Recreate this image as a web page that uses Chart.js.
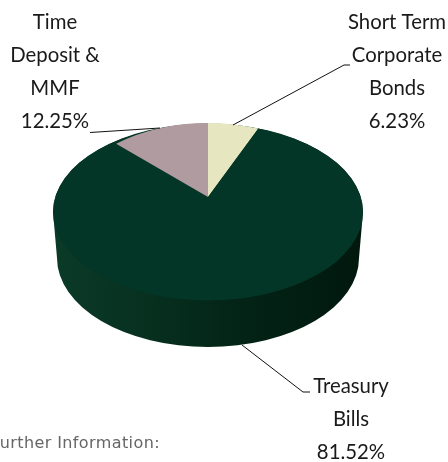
<!DOCTYPE html>
<html><head><meta charset="utf-8">
<style>html,body{margin:0;padding:0;background:#fff;overflow:hidden}canvas{display:block}</style>
<script src="https://cdn.jsdelivr.net/npm/chart.js@4"></script></head>
<body><canvas id="c" width="448" height="462"></canvas>
<script>
const categories = ["Short Term Corporate Bonds", "Treasury Bills", "Time Deposit & MMF"];
const values = [6.23, 81.52, 12.25];
const colors = ["#e6e7c1", "#033626", "#b09ca0"];
const labelLines = [["Short Term", "Corporate", "Bonds", "6.23%"], ["Treasury", "Bills", "81.52%"], ["Time", "Deposit &", "MMF", "12.25%"]];
const footnote = "Further Information:";

const labelPos = [{x:397,y:22},{x:351,y:386},{x:55,y:22}];
const leaders = [[[233,125],[344,65],[350,65]],[[242,345],[303,392],[310,392]],[[90,132.5],[160,128]]];

const pie3d = {
  id:'pie3d',
  beforeDatasetDraw(chart){
    const ctx = chart.ctx, arcs = chart.getDatasetMeta(0).data, R = arcs[0].outerRadius;
    const g = ctx.createLinearGradient(55,0,360,0);
    g.addColorStop(0,'#0b3a29'); g.addColorStop(0.3,'#07301f'); g.addColorStop(0.6,'#032416'); g.addColorStop(1,'#01180e');
    ctx.save();
    ctx.fillStyle = g;
    ctx.beginPath();
    ctx.ellipse(208,258,151,89,0,0,Math.PI);
    ctx.lineTo(53,212);
    ctx.ellipse(208,212,155,88,0,Math.PI,0);
    ctx.lineTo(359,258);
    ctx.fill();
    ctx.fillStyle = colors[1];
    ctx.beginPath();
    ctx.ellipse(208,212,155,88.5,0,0,Math.PI*2);
    ctx.fill();
    arcs.forEach(a=>{
      ctx.save();
      ctx.translate(208,197);
      ctx.scale(132/R,74/R);
      ctx.translate(-a.x,-a.y);
      a.draw(ctx);
      ctx.restore();
    });
    ctx.restore();
    return false;
  },
  afterDraw(chart){
    const ctx = chart.ctx;
    ctx.save();
    ctx.strokeStyle='#111'; ctx.lineWidth=1;
    leaders.forEach(pts=>{
      ctx.beginPath();
      pts.forEach((p,i)=> i?ctx.lineTo(p[0],p[1]):ctx.moveTo(p[0],p[1]));
      ctx.stroke();
    });
    ctx.fillStyle='#1a1a1a'; ctx.font='22px Lato, sans-serif';
    ctx.textAlign='center'; ctx.textBaseline='middle';
    const sx = 0.925;
    labelLines.forEach((lines,i)=>{
      lines.forEach((t,j)=>{
        ctx.save();
        ctx.translate(labelPos[i].x,labelPos[i].y+j*33);
        ctx.scale(sx,1);
        ctx.fillText(t,0,0);
        ctx.restore();
      });
    });
    ctx.fillStyle='#666'; ctx.font='16px "DejaVu Sans", sans-serif'; ctx.textAlign='left';
    ctx.letterSpacing='0.4px';
    ctx.fillText(footnote,-9,444);
    ctx.restore();
  }
};

new Chart(document.getElementById('c'),{
  type:'pie',
  data:{labels:categories,datasets:[{data:values,backgroundColor:colors,borderWidth:0}]},
  options:{responsive:false,animation:false,rotation:0,
    plugins:{legend:{display:false},tooltip:{enabled:false}}},
  plugins:[pie3d]
});
</script></body></html>
